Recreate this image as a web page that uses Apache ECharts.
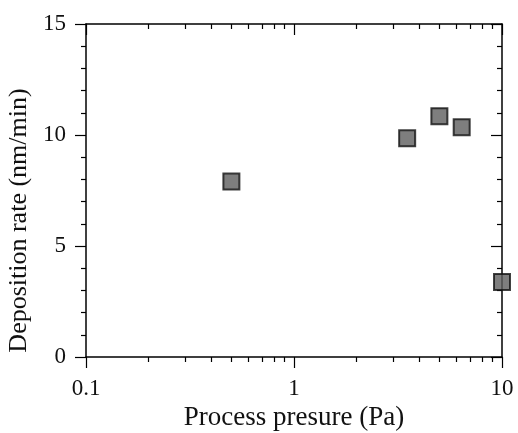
<html>
    <head>
        <meta charset="utf-8">
        <script src='https://cdn.jsdelivr.net/npm/echarts@6/dist/echarts.min.js'></script>
    </head>
    <body>
        <style>
            html, body, #main {
                width: 100%;
                height: 100%;
                margin: 0;
                background: #fff;
            }
        </style>
        <div id='main'></div>
        <script>
            // data
            var pressure = [0.5, 3.5, 5.0, 6.4, 10];
            var rate = [7.9, 9.85, 10.85, 10.35, 3.38];

            var majorX = [0.1, 1, 10];
            var minorX = [0.2, 0.3, 0.4, 0.5, 0.6, 0.7, 0.8, 0.9, 2, 3, 4, 5, 6, 7, 8, 9];

            var font = 'Liberation Serif';
            var chart = echarts.init(document.getElementById('main'));

            function xAx(pos, ticks, len, inside, withLine, withLabel) {
                return {
                    type: 'log', logBase: 10, min: 0.1, max: 10, position: pos,
                    axisLine: { show: withLine, lineStyle: { color: '#000', width: 1.5 } },
                    axisTick: { show: true, inside: inside, length: len, customValues: ticks,
                                lineStyle: { color: '#000', width: 1.2 } },
                    axisLabel: { show: withLabel, customValues: majorX, margin: 20,
                                 fontFamily: font, fontSize: 23, color: '#111' },
                    splitLine: { show: false }, minorTick: { show: false }
                };
            }
            function yAx(pos, inside, withLabel) {
                return {
                    type: 'value', min: 0, max: 15, interval: 5, position: pos,
                    axisLine: { show: true, lineStyle: { color: '#000', width: 1.5 } },
                    axisTick: { show: true, inside: inside, length: 11, lineStyle: { color: '#000', width: 1.2 } },
                    minorTick: { show: true, splitNumber: 5, length: 5, lineStyle: { color: '#000', width: 1.2 } },
                    axisLabel: { show: withLabel, margin: 20, fontFamily: font, fontSize: 23, color: '#111' },
                    splitLine: { show: false }
                };
            }

            var xb = xAx('bottom', majorX, 11, false, true, true);
            xb.name = 'Process presure (Pa)';
            xb.nameLocation = 'middle';
            xb.nameGap = 47;
            xb.nameTextStyle = { fontFamily: font, fontSize: 27, color: '#111' };
            var yl = yAx('left', false, true);
            yl.name = 'Deposition rate (nm/min)';
            yl.nameLocation = 'middle';
            yl.nameGap = 49;
            yl.nameTextStyle = { fontFamily: font, fontSize: 26, color: '#111', padding: [0, 60, 0, 0] };

            var option = {
                animation: false,
                grid: { left: 86, right: 16, top: 24, bottom: 76, containLabel: false, outerBoundsMode: 'none' },
                xAxis: [
                    xb,
                    xAx('bottom', minorX, 5, false, false, false),
                    xAx('top', majorX, 11, true, true, false),
                    xAx('top', minorX, 5, true, false, false)
                ],
                yAxis: [yl, yAx('right', true, false)],
                series: [{
                    type: 'scatter',
                    xAxisIndex: 0, yAxisIndex: 0,
                    symbol: 'rect',
                    symbolSize: 16,
                    itemStyle: { color: '#5e5e5e', borderColor: '#111', borderWidth: 2 },
                    data: pressure.map(function (p, i) { return [p, rate[i]]; })
                }]
            };
            chart.setOption(option);
            window.onresize = chart.resize;
        </script>
    </body>
</html>
